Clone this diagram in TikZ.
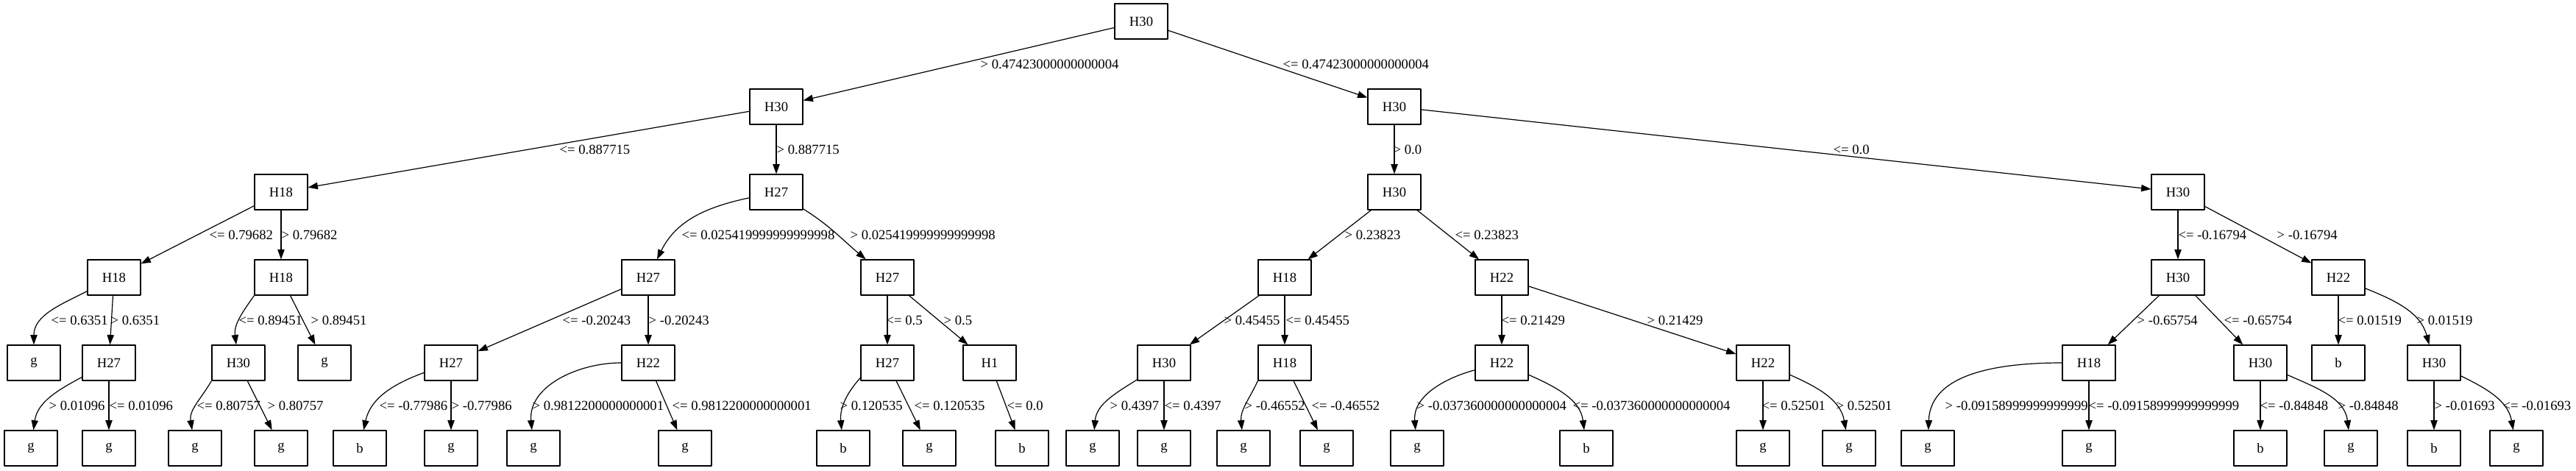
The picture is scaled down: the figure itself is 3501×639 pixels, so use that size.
\documentclass[tikz,border=0pt]{standalone}
\usepackage{fontspec}
\setmainfont{Liberation Serif}
\usetikzlibrary{arrows.meta}
\begin{document}
\begin{tikzpicture}[>={Triangle[length=10pt,width=7pt]}, line join=round, line width=0.9pt,
 x=0.75pt, y=-0.75pt, font=\fontsize{14}{17}\selectfont,
 box/.style={draw, minimum width=54pt, minimum height=36pt, inner sep=0pt},
 lbl/.style={anchor=west, inner sep=0pt}]
 \useasboundingbox (0,0) rectangle (3501,639);
 % one row of nodes per level
 \node[box] (a1) at (1551,29) {H30};
 \foreach \n/\x/\t in {b1/1055/H30, b2/1895/H30}
  \node[box] (\n) at (\x,145) {\t};
 \foreach \n/\x/\t in {c1/382/H18, c2/1055/H27, c3/1895/H30, c4/2960/H30}
  \node[box] (\n) at (\x,261) {\t};
 \foreach \n/\x/\t in {d1/155/H18, d2/382/H18, d3/881/H27, d4/1206/H27,
  d5/1746/H18, d6/2041/H22, d7/2960/H30, d8/3178/H22}
  \node[box] (\n) at (\x,377) {\t};
 \foreach \n/\x/\t in {e1/46/g, e2/148/H27, e3/324/H30, e4/441/g, e5/613/H27, e6/881/H22,
  e7/1206/H27, e8/1345/H1, e9/1582/H30, e10/1746/H18, e11/2041/H22, e12/2396/H22,
  e13/2839/H18, e14/3072/H30, e15/3178/b, e16/3308/H30}
  \node[box] (\n) at (\x,493) {\t};
 \foreach \n/\x/\t in {f1/42/g, f2/148/g, f3/265/g, f4/382/g, f5/489/b, f6/613/g, f7/725/g,
  f8/931/g, f9/1146/b, f10/1263/g, f11/1389/b, f12/1485/g, f13/1582/g, f14/1690/g,
  f15/1803/g, f16/1926/g, f17/2156/b, f18/2396/g, f19/2513/g, f20/2620/g, f21/2839/g,
  f22/3072/b, f23/3195/g, f24/3308/b, f25/3420/g}
  \node[box] (\n) at (\x,609) {\t};
 % straight edges
 \foreach \p/\c in {a1/b1, a1/b2, b1/c1, b1/c2, b2/c3, b2/c4, c1/d1, c1/d2, c3/d5, c3/d6,
  c4/d7, c4/d8, d1/e2, d2/e4, d3/e5, d3/e6, d4/e7, d4/e8, d5/e9, d5/e10, d6/e11, d6/e12,
  d7/e13, d7/e14, d8/e15, e2/f2, e3/f4, e5/f6, e6/f8, e7/f10, e8/f11, e9/f13, e10/f15,
  e12/f18, e13/f21, e14/f22, e16/f24}
  \draw[->] (\p) -- (\c);
 % curved edges
 \draw[->] (c2) to[out=192,in=64] (d3);
 \draw[->] (c2) to[out=-32,in=140] (d4);
 \draw[->] (d1) to[out=207,in=90] (e1);
 \draw[->] (d2.south west) to[out=235,in=97] (e3);
 \draw[->] (d8) to[out=-22,in=105] (e16);
 \draw[->] (e2) to[out=208,in=82] (f1);
 \draw[->] (e3.south west) to[out=240,in=99] (f3);
 \draw[->] (e5) to[out=200,in=78] (f5);
 \draw[->] (e6) to[out=180,in=95] (f7);
 \draw[->] (e7.209) to[out=228,in=95] (f9);
 \draw[->] (e9) to[out=212,in=85] (f12);
 \draw[->] (e10.south west) to[out=245,in=95] (f14);
 \draw[->] (e11) to[out=195,in=95] (f16);
 \draw[->] (e11) to[out=-24,in=97] (f17);
 \draw[->] (e12) to[out=-24,in=100] (f19);
 \draw[->] (e13) to[out=180,in=88] (f20);
 \draw[->] (e14) to[out=-24,in=97] (f23);
 \draw[->] (e16) to[out=-26,in=100] (f25);
 % edge labels
 \foreach \x/\y/\t [count=\i] in {1332/87/> 0.47423000000000004, 1743/87/<= 0.47423000000000004,
  760/203/<= 0.887715, 1055/203/> 0.887715, 1893/203/> 0.0, 2491/203/<= 0.0,
  284/319/<= 0.79682, 382/319/> 0.79682, 926/319/<= 0.025419999999999998,
  1155/319/> 0.025419999999999998, 1827/319/> 0.23823, 1977/319/<= 0.23823,
  2960/319/<= -0.16794, 3094/319/> -0.16794,
  69/435/<= 0.6351, 150/435/> 0.6351, 324/435/<= 0.89451, 422/435/> 0.89451,
  764/435/<= -0.20243, 881/435/> -0.20243, 1204/435/<= 0.5, 1282/435/> 0.5,
  1663/435/> 0.45455, 1747/435/<= 0.45455, 2040/435/<= 0.21429, 2238/435/> 0.21429,
  2904/435/> -0.65754, 3022/435/<= -0.65754, 3177/435/<= 0.01519, 3284/435/> 0.01519,
  66/551/> 0.01096, 148/551/<= 0.01096, 267/551/<= 0.80757, 363/551/> 0.80757,
  515/551/<= -0.77986, 613/551/> -0.77986, 723/551/> 0.9812200000000001,
  913/551/<= 0.9812200000000001, 1141/551/> 0.120535, 1242/551/<= 0.120535,
  1368/551/<= 0.0, 1508/551/> 0.4397, 1582/551/<= 0.4397, 1691/551/> -0.46552,
  1782/551/<= -0.46552, 1925/551/> -0.037360000000000004, 2137/551/<= -0.037360000000000004,
  2394/551/<= 0.52501, 2495/551/> 0.52501, 2643/551/> -0.09158999999999999,
  2838/551/<= -0.09158999999999999, 3071/551/<= -0.84848, 3177/551/> -0.84848,
  3308/551/> -0.01693, 3401/551/<= -0.01693}
  \node[lbl] (lab\i) at (\x,\y) {\t};
\end{tikzpicture}
\end{document}
